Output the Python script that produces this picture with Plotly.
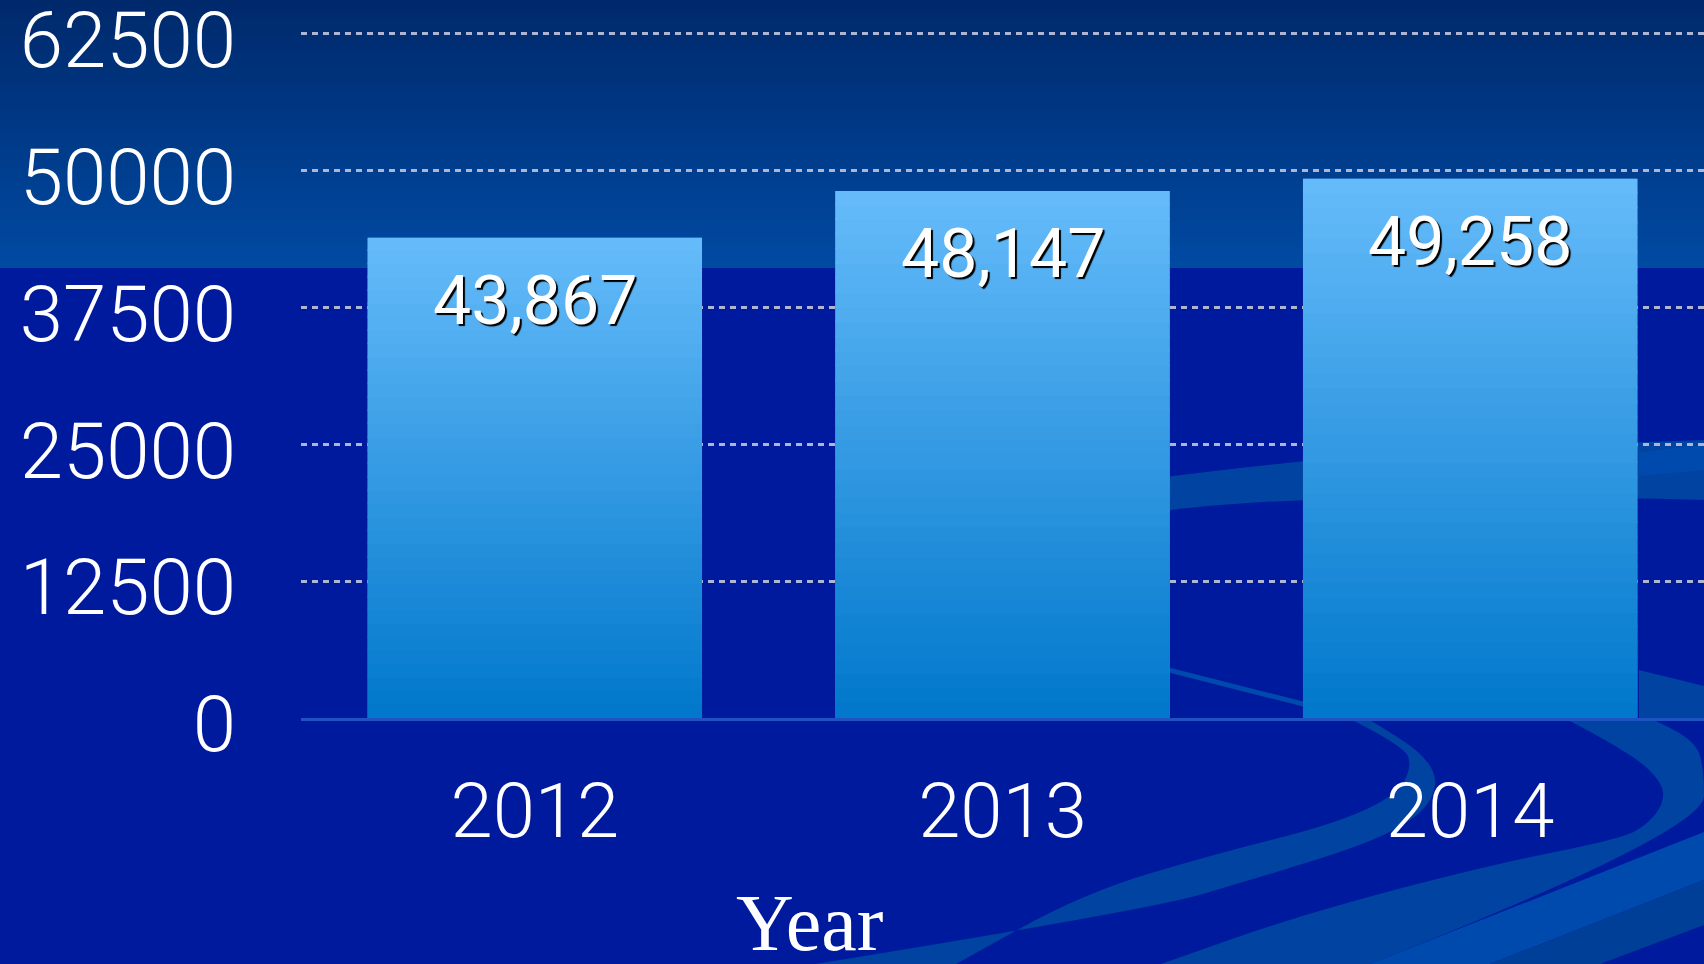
import plotly.graph_objects as go

# ---------------- data ----------------
years = ["2012", "2013", "2014"]
values = [43867, 48147, 49258]
value_labels = ["43,867", "48,147", "49,258"]
y_tick_values = [0, 12500, 25000, 37500, 50000, 62500]
y_tick_labels = ["0", "12500", "25000", "37500", "50000", "62500"]
x_title = "Year"

# ---------------- geometry / style ----------------
W, H = 1704, 964
ML, MR, MT, MB = 301, 0, 31, 246
PW, PH = W - ML - MR, H - MT - MB
BARGAP = 0.285
HALF = (1 - BARGAP) / 2
Y_MAX = 62500 * 1.004

BG = "#001a9e"
BAND_TOP, BAND_BOT = "#00296b", "#004aa3"
BAR_TOP, BAR_BOT = "#66bcfa", "#0077cb"
SWOOSH = "#0043a0"
SWOOSH_L = "#0049ad"
SWOOSH_D = "#003f97"
TICK_FONT = "Roboto, Liberation Sans, Arial"


def hx(c):
    c = c.lstrip("#")
    return [int(c[i:i + 2], 16) for i in (0, 2, 4)]


def lerp(c1, c2, t):
    a, b = hx(c1), hx(c2)
    return "rgb(%d,%d,%d)" % tuple(round(a[i] + (b[i] - a[i]) * t) for i in range(3))


def pp(x, y):
    return (x - ML) / PW, (H - MB - y) / PH


def smooth(pts, start="M"):
    p = [pp(*q) for q in pts]
    s = "%s %.5f %.5f " % (start, p[0][0], p[0][1])
    for i in range(1, len(p) - 1):
        mx = (p[i][0] + p[i + 1][0]) / 2
        my = (p[i][1] + p[i + 1][1]) / 2
        s += "Q %.5f %.5f %.5f %.5f " % (p[i][0], p[i][1], mx, my)
    s += "L %.5f %.5f " % (p[-1][0], p[-1][1])
    return s


def region(edge1, edge2, color):
    path = smooth(edge1) + smooth(edge2, "L") + "Z"
    return dict(type="path", path=path, xref="paper", yref="paper",
                fillcolor=color, line=dict(width=0), layer="below")


shapes = []

# top gradient band
NB = 40
band_h = 268
for k in range(NB):
    y0p, y1p = band_h * k / NB, band_h * (k + 1) / NB + 0.8
    x0, ya = pp(-10, y0p)
    x1, yb = pp(W + 10, min(y1p, band_h))
    shapes.append(dict(type="rect", xref="paper", yref="paper", x0=x0, x1=x1,
                       y0=yb, y1=ya, fillcolor=lerp(BAND_TOP, BAND_BOT, (k + 0.5) / NB),
                       line=dict(width=0), layer="below"))

# decorative swooshes (background artwork)
shapes.append(region([(1000, 500), (1305, 454), (1704, 440)],
                     [(1704, 500), (1305, 490), (1000, 535)], SWOOSH))
shapes.append(region([(1639, 452), (1704, 445)], [(1704, 470), (1639, 476)], SWOOSH_L))
shapes.append(region([(1100, 650), (1305, 702)], [(1305, 707), (1100, 655)], SWOOSH_L))
shapes.append(region([(1639, 670), (1704, 686)], [(1704, 718), (1639, 718)], SWOOSH))
# hook B
shapes.append(region(
    [(1352, 720), (1404, 746), (1412, 767), (1396, 796), (1331, 825), (1215, 854), (1084, 893), (956, 964)],
    [(815, 964), (1148, 910), (1254, 879), (1370, 843), (1423, 814), (1439, 782), (1423, 753), (1370, 720)],
    SWOOSH))
# hook C
shapes.append(region(
    [(1568, 720), (1631, 753), (1662, 782), (1664, 803), (1647, 825), (1620, 839), (1485, 866), (1300, 915), (1161, 964)],
    [(1370, 964), (1704, 832), (1704, 760), (1690, 738), (1654, 720)],
    SWOOSH))
shapes.append(region([(1370, 964), (1704, 832)], [(1704, 880), (1490, 964)], SWOOSH_L))
shapes.append(region([(1490, 964), (1704, 880)], [(1704, 925), (1600, 964)], SWOOSH_D))

# bar gradient overlays (derived from bar values)
NS = 36
for i, v in enumerate(values):
    for k in range(NS):
        y0 = v * k / NS
        y1 = min(v, v * (k + 1) / NS + v * 0.004)
        shapes.append(dict(type="rect", xref="x", yref="y", x0=i - HALF, x1=i + HALF,
                           y0=y0, y1=y1, fillcolor=lerp(BAR_BOT, BAR_TOP, (k + 0.5) / NS),
                           line=dict(width=0), layer="above"))

fig = go.Figure()
fig.add_trace(go.Bar(x=years, y=values, marker=dict(color="#3a9be6", line=dict(width=0)),
                     hoverinfo="skip", showlegend=False))

annotations = []
for i, (v, lab) in enumerate(zip(values, value_labels)):
    annotations.append(dict(x=i, y=v, xref="x", yref="y", text=lab, showarrow=False,
                            yanchor="middle", yshift=-63,
                            font=dict(family="Roboto, Liberation Sans, Arial", size=68, color="white",
                                      shadow="2px 2px 1px #000000")))
annotations.append(dict(x=pp(809, 0)[0], y=pp(0, 923)[1], xref="paper", yref="paper",
                        text=x_title, showarrow=False, yanchor="middle",
                        font=dict(family="Liberation Serif, Times New Roman", size=80, color="white")))

fig.update_layout(
    width=W, height=H,
    margin=dict(l=ML, r=MR, t=MT, b=MB, pad=0, autoexpand=False),
    paper_bgcolor=BG, plot_bgcolor="rgba(0,0,0,0)",
    bargap=BARGAP, showlegend=False,
    shapes=shapes, annotations=annotations,
    xaxis=dict(type="category", range=[-0.5, 2.5], showgrid=False, zeroline=False,
               showline=True, linecolor="#2152c4", linewidth=3, ticks="", automargin=False,
               tickfont=dict(family=TICK_FONT, size=76, color="white", weight=300),
               ticklabelstandoff=25),
    yaxis=dict(range=[0, Y_MAX], tickvals=y_tick_values, ticktext=y_tick_labels,
               showgrid=True, gridcolor="#b0b6d2", gridwidth=2.5, griddash="6px,5px",
               zeroline=False, showline=False, ticks="", ticklabeloverflow="allow",
               automargin=False, ticklabelshift=6,
               tickfont=dict(family=TICK_FONT, size=78, color="white", weight=300),
               ticklabelstandoff=64),
)

fig.write_html("out.html", config={"displayModeBar": False},
               post_script="document.body.style.margin='0';document.body.style.overflow='hidden';")
